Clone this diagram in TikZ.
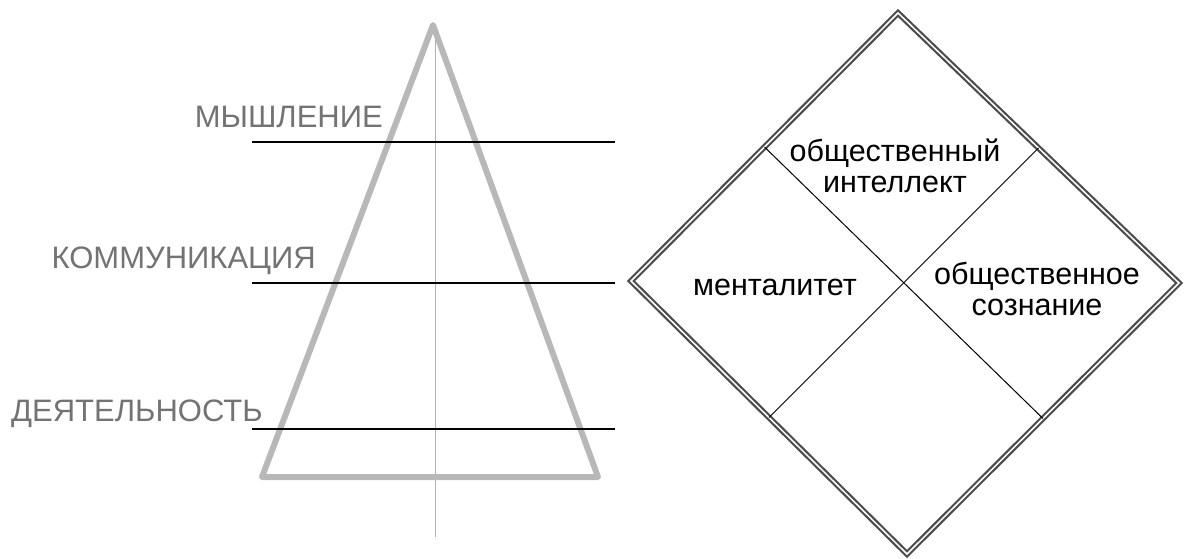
\documentclass[tikz,border=0pt]{standalone}
\usepackage{fontspec}
\setmainfont{Liberation Sans}
\usetikzlibrary{positioning}
\usetikzlibrary{calc}

\begin{document}
\begin{tikzpicture}[x=1pt, y=-1pt,
    level/.style={text=black!55, font=\fontsize{31}{35}\selectfont, inner sep=0pt},
    part/.style={font=\fontsize{30.5}{31}\selectfont, align=center, inner sep=0pt}]

      \useasboundingbox (0,0) rectangle (1184,558);

      % Corners of the pyramid
      \coordinate (apex) at (433,25);
      \coordinate (bl) at (262,477);
      \coordinate (br) at (598,477);

      % Axis of the pyramid
      \coordinate (axtop) at (435,25);
      \coordinate (axbot) at (435,537);
      \draw[black!30, line width=1pt] (axtop) -- (axbot);

      % Pyramid
      \draw[black!28, line width=6pt, line join=round] (apex) -- (bl) -- (br) -- cycle;

      % Levels of the pyramid
      \foreach \y/\lv in {142/m, 283/k, 429/d} {
        \coordinate (\lv l) at (252,\y);
        \coordinate (\lv r) at (615,\y);
        \draw[line width=1.5pt] (\lv l) -- (\lv r);
      }

      % Names of the levels
      \node[level, anchor=base east] (think) at (383,127) {МЫШЛЕНИЕ};
      \node[level, anchor=base east] (comm) at (316,268) {КОММУНИКАЦИЯ};
      \node[level, anchor=base west] (act) at (11,421) {ДЕЯТЕЛЬНОСТЬ};

      % Corners of the square
      \coordinate (top) at (898,13);
      \coordinate (left) at (631,281);
      \coordinate (right) at (1179,283);
      \coordinate (bottom) at (907,554);

      % Square with a double border
      \draw[black!70, line width=2.2pt, double=white, double distance=1.5pt, line join=miter]
        (top) -- (right) -- (bottom) -- (left) -- cycle;

      % Cross inside the square
      \coordinate (tl) at ($(top)!0.5!(left)$);
      \coordinate (tr) at ($(top)!0.5!(right)$);
      \coordinate (bl2) at ($(bottom)!0.5!(left)$);
      \coordinate (br2) at ($(bottom)!0.5!(right)$);
      \draw[line width=1pt] (tl) -- (br2);
      \draw[line width=1pt] (tr) -- (bl2);

      % Parts of the square
      \node[part] (intel) at (895,166) {общественный\\интеллект};
      \node[part] (mental) at (775,287) {менталитет};
      \node[part] (consc) at (1037,289) {общественное\\сознание};

    \end{tikzpicture}
\end{document}
